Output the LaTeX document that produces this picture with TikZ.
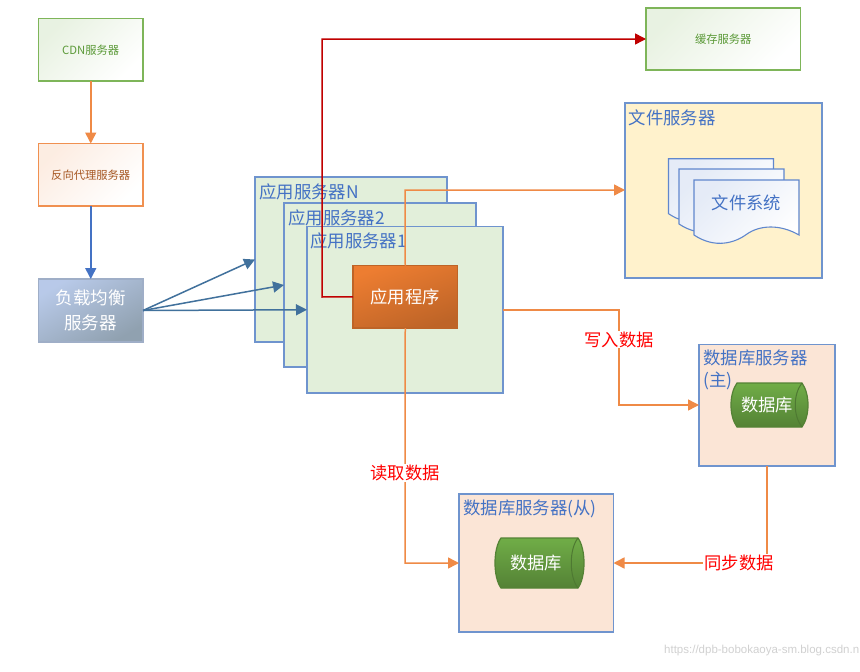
\documentclass[tikz,border=0pt]{standalone}
\usepackage{fontspec}
\setmainfont{Noto Sans CJK SC}
\newfontfamily\latinwm{Liberation Sans}
\usetikzlibrary{arrows.meta}
\definecolor{cblue}{HTML}{4472C4}
\definecolor{cboxline}{HTML}{6F94CE}
\definecolor{corange}{HTML}{ED7D31}
\definecolor{cgreen}{HTML}{70AD47}
\definecolor{cgreentext}{HTML}{5B9A38}
\definecolor{cdarkred}{HTML}{C00000}
\definecolor{csteel}{HTML}{41719C}
\definecolor{cappfill}{HTML}{E2EFDA}
\definecolor{cdbfill}{HTML}{FBE5D6}
\definecolor{cfilefill}{HTML}{FFF2CC}
\tikzset{
  x=1pt, y=-1pt,
  box/.style={draw, line width=1.4pt, inner sep=0pt, outer sep=0pt, align=center},
  greenbox/.style={box, draw=cgreen!90, text=cgreentext, font=\fontsize{11.3}{14}\selectfont,
    shade, shading=axis, left color=cgreen!16, right color=white, shading angle=45},
  proxybox/.style={box, draw=corange!85, text=corange!70!black, font=\fontsize{11.3}{14}\selectfont,
    shade, shading=axis, left color=corange!14, right color=white, shading angle=45},
  lbbox/.style={box, draw=cboxline!60!gray!70, text=white, font=\fontsize{17.5}{24.5}\selectfont,
    shade, shading=axis, left color=cblue!38, right color=csteel!50!gray!70, shading angle=30},
  appbox/.style={box, draw=cboxline, fill=cappfill},
  dbbox/.style={box, draw=cboxline, fill=cdbfill},
  filebox/.style={box, draw=cboxline, fill=cfilefill},
  progbox/.style={box, draw=corange!80!black, text=white, font=\fontsize{17.3}{20}\selectfont,
    shade, shading=axis, left color=corange, right color=corange!80!black, shading angle=20},
  title/.style={text=cblue, font=\fontsize{17.4}{24}\selectfont, anchor=west, inner sep=0pt, align=left},
  flowlabel/.style={text=red, fill=white, font=\fontsize{17.3}{20}\selectfont, inner sep=1pt},
  drum/.style={draw=cgreen!75!black, line width=1.2pt, top color=cgreen, bottom color=cgreen!75!black},
  drumedge/.style={draw=cgreen!70!black, line width=1pt},
  drumlabel/.style={text=white, font=\fontsize{17.3}{20}\selectfont, inner sep=0pt},
  sheet/.style={draw=cblue!85, line width=1.1pt, left color=cblue!14, right color=white, shading angle=45},
  link/.style={line width=1.5pt, -{Triangle[length=11pt,width=11pt]}},
  feed/.style={link, draw=corange!90},
  steelarrow/.style={link, draw=csteel},
}
% one page of the stacked document symbol; #1 is its offset
\newcommand{\docsheet}[1]{%
  \path[sheet, shift={(#1)}] (0,0) -- (105,0) -- (105,55)
    .. controls (86,44) and (66,45) .. (53,54)
    .. controls (41,63) and (21,69) .. (0,55) -- cycle;}
% horizontal drum; #1 left, #2 right, #3 top, #4 bottom
\newcommand{\drumshape}[4]{%
  \path[drum] (#1+6,#3) -- (#2-6,#3) .. controls (#2+2,#3+11) and (#2+2,#4-11) .. (#2-6,#4)
    -- (#1+6,#4) .. controls (#1-2,#4-11) and (#1-2,#3+11) .. (#1+6,#3) -- cycle;
  \path[drumedge] (#2-6,#3) .. controls (#2-15,#3+11) and (#2-15,#4-11) .. (#2-6,#4);}
\begin{document}
\begin{tikzpicture}
\useasboundingbox[fill=white] (0,0) rectangle (860,672);

% edge tier
\node[greenbox, minimum width=104.5pt, minimum height=62.5pt] (cdn) at (90.75,49.75) {CDN服务器};
\node[proxybox, minimum width=104.5pt, minimum height=62.5pt] (proxy) at (90.75,174.75) {反向代理服务器};
\node[lbbox, minimum width=104.5pt, minimum height=63pt] (lb) at (90.75,310.5) {负载均衡\\服务器};

% application servers
\node[appbox, minimum width=192pt, minimum height=165pt] (appN) at (351,259.5) {};
\node[appbox, minimum width=192pt, minimum height=164pt] (app2) at (380,285) {};
\node[appbox, minimum width=196pt, minimum height=166.5pt] (app1) at (405,309.75) {};
\node[title] (appNt) at (259,192) {应用服务器N};
\node[title] (app2t) at (288,217.5) {应用服务器2};
\node[title] (app1t) at (310,241) {应用服务器1};
\node[progbox, minimum width=104.5pt, minimum height=62.5pt] (prog) at (405.25,296.75) {应用程序};

% cache and file servers
\node[greenbox, minimum width=154.5pt, minimum height=62pt] (cache) at (723.25,39) {缓存服务器};
\node[filebox, minimum width=197pt, minimum height=175pt] (files) at (723.5,190.5) {};
\node[title] (filest) at (628.5,117.5) {文件服务器};
\docsheet{668.5,158.7}
\docsheet{679,169}
\docsheet{694,180}
\node[text=cblue, font=\fontsize{17.3}{20}\selectfont, inner sep=0pt] (fsys) at (746.5,203) {文件系统};

% database servers
\node[dbbox, minimum width=136pt, minimum height=121.5pt] (master) at (767,405.25) {};
\node[title] (mastert) at (703,357.5) {数据库服务器};
\node[title] (mastert2) at (703,381) {(主)};
\drumshape{731}{808}{383}{427}
\node[drumlabel] (masterdb) at (767,405) {数据库};
\node[dbbox, minimum width=154.5pt, minimum height=138pt] (slave) at (536.25,563) {};
\node[title] (slavet) at (463,509) {数据库服务器(从)};
\drumshape{495}{584}{538}{588}
\node[drumlabel] (slavedb) at (536,563) {数据库};

% helper points where the routed lines turn
\coordinate (redA) at (322,297);
\coordinate (redB) at (322,39);
\coordinate (fileA) at (405,190);
\coordinate (writeA) at (619,310);
\coordinate (writeB) at (619,405);
\coordinate (readA) at (405,563);
\coordinate (syncA) at (767,563);

% connectors
\draw[feed] (cdn) -- (proxy);
\draw[link, draw=cblue] (proxy) -- (lb);
\draw[steelarrow] (lb.east) -- (appN.west);
\draw[steelarrow] (lb.east) -- (app2.west);
\draw[steelarrow] (lb.east) -- (app1.west);
\draw[link, draw=cdarkred]
  (prog.west) -- (redA) -- (redB) -- (redB -| cache.west);
\draw[feed] (prog.north) -- (fileA) -- (fileA -| files.west);
\draw[feed] (app1.east |- writeA) -- (writeA) -- (writeB) -- (master.west |- writeB);
\draw[feed] (prog.south) -- (readA) -- (readA -| slave.west);
\draw[feed] (master.south) -- (syncA) -- (slave.east |- syncA);

% flow labels sit on the lines
\node[flowlabel] (write) at (619,339.5) {写入数据};
\node[flowlabel] (read) at (405,473) {读取数据};
\node[flowlabel] (sync) at (739,563) {同步数据};

% site address along the lower edge
\node[anchor=west, inner sep=0pt, text=black!18, font=\latinwm\fontsize{11.5}{14}\selectfont] (site) at (664,650.5) {https://dpb-bobokaoya-sm.blog.csdn.n};
\end{tikzpicture}
\end{document}
